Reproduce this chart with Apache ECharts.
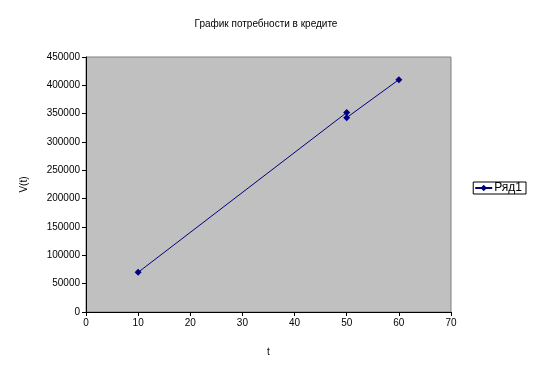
<!DOCTYPE html>
<html>
<head>
<meta charset="utf-8">
<script src="https://cdn.jsdelivr.net/npm/echarts@6/dist/echarts.min.js"></script>
<style>html,body{margin:0;padding:0;background:#fff}#c{width:539px;height:374px}</style>
</head>
<body>
<div id="c"></div>
<script>
var titleText = 'График потребности в кредите';
var seriesName = 'Ряд1';
var tValues = [10, 50, 50, 60];
var vValues = [70000, 352000, 343000, 410000];
var xName = 't';
var yName = 'V(t)';

var data = tValues.map(function (t, i) { return [t, vValues[i]]; });
var font = 'Liberation Sans, Arial, sans-serif';
var chart = echarts.init(document.getElementById('c'), null, {renderer: 'canvas'});
chart.setOption({
  animation: false,
  backgroundColor: '#fff',
  title: {
    text: titleText, left: 261, top: 14, textAlign: 'center',
    textStyle: {fontFamily: font, fontSize: 10, fontWeight: 'normal', color: '#000'}
  },
  legend: {
    right: 13, top: 182, orient: 'vertical',
    borderColor: '#000', borderWidth: 1, padding: [0, 4, 0, 1],
    itemWidth: 17, itemHeight: 8, itemGap: 0,
    textStyle: {fontFamily: font, fontSize: 12, color: '#000', padding: [0, 0, 0, -3]},
    data: [seriesName]
  },
  grid: {
    left: 86, right: 88, top: 57, bottom: 62,
    show: true, backgroundColor: '#C0C0C0', borderColor: '#808080', borderWidth: 1
  },
  xAxis: {
    type: 'value', min: 0, max: 70, interval: 10,
    name: xName, nameLocation: 'middle', nameGap: 35,
    nameTextStyle: {fontFamily: font, fontSize: 10, color: '#000'},
    axisLine: {show: true, onZero: false, lineStyle: {color: '#000', width: 1}},
    axisTick: {show: true, length: 4, lineStyle: {color: '#000'}},
    axisLabel: {fontFamily: font, fontSize: 10, color: '#000', margin: 6},
    splitLine: {show: false}
  },
  yAxis: {
    type: 'value', min: 0, max: 450000, interval: 50000,
    name: yName, nameLocation: 'middle', nameGap: 57,
    nameTextStyle: {fontFamily: font, fontSize: 10, color: '#000'},
    axisLine: {show: true, onZero: false, lineStyle: {color: '#000', width: 1}},
    axisTick: {show: true, length: 4, lineStyle: {color: '#000'}},
    axisLabel: {fontFamily: font, fontSize: 10, color: '#000', margin: 6,
      formatter: function (v) { return String(v); }},
    splitLine: {show: false}
  },
  series: [{
    name: seriesName, type: 'line', data: data,
    symbol: 'diamond', symbolSize: 7, showSymbol: true,
    lineStyle: {color: '#000080', width: 1},
    itemStyle: {color: '#000080', borderWidth: 0}
  }]
});
</script>
</body>
</html>
